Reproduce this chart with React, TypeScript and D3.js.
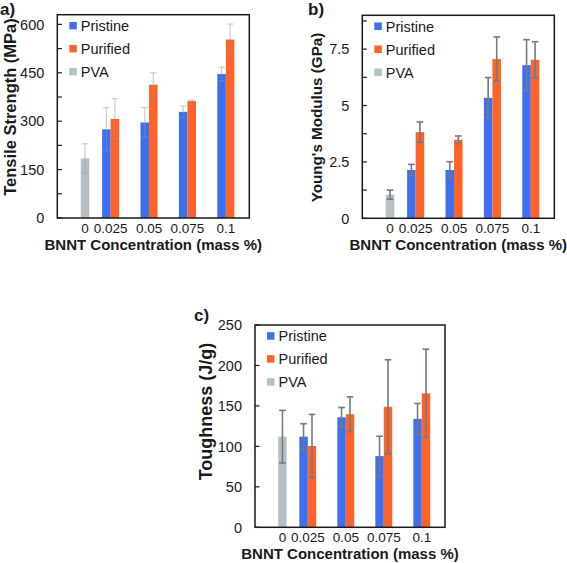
import React from "react";
import * as d3 from "d3";

const categories = ["0", "0.025", "0.05", "0.075", "0.1"];
const seriesNames = ["Pristine", "Purified", "PVA"];

const tensilePristine = [null, 275, 296, 329, 446];
const tensilePristineErr = [null, 67, 46, 18, 21];
const tensilePurified = [null, 307, 413, 363, 553];
const tensilePurifiedErr = [null, 63, 37, 3, 48];
const tensilePVA = [185, null, null, null, null];
const tensilePVAErr = [45, null, null, null, null];
const tensileTicks = [0, 150, 300, 450, 600];
const tensileMinor = [75, 225, 375, 525];

const modulusPristine = [null, 2.14, 2.14, 5.34, 6.79];
const modulusPristineErr = [null, 0.25, 0.37, 0.9, 1.13];
const modulusPurified = [null, 3.82, 3.48, 7.06, 7.03];
const modulusPurifiedErr = [null, 0.45, 0.17, 0.98, 0.8];
const modulusPVA = [1.05, null, null, null, null];
const modulusPVAErr = [0.2, null, null, null, null];
const modulusTicks = [0, 2.5, 5, 7.5];
const modulusTickLabels = ["0", "2.5", "5", "7.5"];
const modulusMinor = [1.25, 3.75, 6.25, 8.75];

const toughPristine = [null, 112, 136, 88, 134];
const toughPristineErr = [null, 16, 12, 24.5, 19];
const toughPurified = [null, 100.5, 139.7, 149, 165.6];
const toughPurifiedErr = [null, 39, 21.5, 58, 54.5];
const toughPVA = [112, null, null, null, null];
const toughPVAErr = [32.5, null, null, null, null];
const toughTicks = [0, 50, 100, 150, 200, 250];

const COLORS = ["#3d6ff0", "#ff6327", "#b3c1c5"];
const FONT = "'Liberation Sans', Arial, sans-serif";

type Panel = {
  label: string;
  yTitle: string;
  left: number;
  right: number;
  top: number;
  bottom: number;
  yMax: number;
  ticks: number[];
  tickLabels: string[];
  minor: number[];
  values: (number | null)[][];
  errs: (number | null)[][];
  errColor: string;
  errWidth: number;
  inBarDotted: boolean;
  labelPos: [number, number];
  yTitlePos: [number, number];
  yTitleSize: number;
};

function ChartPanel({ p }: { p: Panel }) {
  const x0 = d3.scaleBand<string>().domain(categories).range([p.left, p.right]).padding(0);
  const x1 = d3
    .scaleBand<string>()
    .domain(seriesNames)
    .range([0, x0.bandwidth()])
    .paddingInner(0)
    .paddingOuter(0.75);
  const y = d3.scaleLinear().domain([0, p.yMax]).range([p.bottom, p.top]);
  const bw = x1.bandwidth();

  const bars: React.ReactNode[] = [];
  const errs: React.ReactNode[] = [];
  categories.forEach((c, ci) => {
    seriesNames.forEach((s, si) => {
      const v = p.values[si][ci];
      if (v == null) return;
      const bx = (x0(c) as number) + (x1(s) as number);
      bars.push(
        <rect key={`b${ci}-${si}`} x={bx} y={y(v)} width={bw} height={p.bottom - y(v)} fill={COLORS[si]} />
      );
      const e = p.errs[si][ci];
      if (e != null) {
        const cx = bx + bw / 2;
        const capW = 3.3;
        const yt = y(v + e);
        const yb = y(Math.max(0, v - e));
        if (p.inBarDotted) {
          errs.push(
            <g key={`e${ci}-${si}`}>
              <line x1={cx} x2={cx} y1={yt} y2={y(v)} stroke={p.errColor} strokeWidth={p.errWidth} />
              <line x1={cx} x2={cx} y1={y(v)} y2={yb} stroke="#8d989c" strokeWidth={1} strokeDasharray="1,1" />
              <line x1={cx - capW} x2={cx + capW} y1={yt} y2={yt} stroke={p.errColor} strokeWidth={p.errWidth} />
              <line x1={cx - capW} x2={cx + capW} y1={yb} y2={yb} stroke="#8d989c" strokeWidth={1} strokeDasharray="1,1" />
            </g>
          );
        } else {
          errs.push(
            <g key={`e${ci}-${si}`}>
              <line x1={cx} x2={cx} y1={yt} y2={yb} stroke={p.errColor} strokeWidth={p.errWidth} />
              <line x1={cx - capW} x2={cx + capW} y1={yt} y2={yt} stroke={p.errColor} strokeWidth={p.errWidth} />
              <line x1={cx - capW} x2={cx + capW} y1={yb} y2={yb} stroke={p.errColor} strokeWidth={p.errWidth} />
            </g>
          );
        }
      }
    });
  });

  const catLabelX = (ci: number) => {
    const c = categories[ci];
    const centers: number[] = [];
    seriesNames.forEach((s, si) => {
      if (p.values[si][ci] != null) centers.push((x0(c) as number) + (x1(s) as number) + bw / 2);
    });
    return d3.mean(centers) as number;
  };

  const legendY0 = p.top + 11;
  const legendStep = 23;

  return (
    <g>
      {bars}
      {errs}
      <rect
        x={p.left}
        y={p.top}
        width={p.right - p.left}
        height={p.bottom - p.top}
        fill="none"
        stroke="#1a1a1a"
        strokeWidth={1.5}
      />
      {[...p.ticks, ...p.minor].map((t, i) => (
        <line key={`t${i}`} x1={p.left} x2={p.left + 4.5} y1={y(t)} y2={y(t)} stroke="#1a1a1a" strokeWidth={1.2} />
      ))}
      {p.ticks.map((t, i) => (
        <text
          key={`tl${i}`}
          x={p.left - 13}
          y={y(t)}
          dy="0.36em"
          textAnchor="end"
          fontFamily={FONT}
          fontSize={14.5}
          fill="#1a1a1a"
        >
          {p.tickLabels[i]}
        </text>
      ))}
      {categories.map((c, ci) => (
        <text
          key={`cl${ci}`}
          x={catLabelX(ci)}
          y={p.bottom + 15}
          textAnchor="middle"
          fontFamily={FONT}
          fontSize={13.5}
          fill="#1a1a1a"
        >
          {c}
        </text>
      ))}
      <text
        x={(p.left + p.right) / 2}
        y={p.bottom + 31.5}
        textAnchor="middle"
        fontFamily={FONT}
        fontSize={15}
        fontWeight="bold"
        fill="#1a1a1a"
      >
        BNNT Concentration (mass %)
      </text>
      <text
        transform={`translate(${p.yTitlePos[0]},${p.yTitlePos[1]}) rotate(-90)`}
        textAnchor="middle"
        fontFamily={FONT}
        fontSize={p.yTitleSize}
        fontWeight="bold"
        fill="#1a1a1a"
      >
        {p.yTitle}
      </text>
      <text x={p.labelPos[0]} y={p.labelPos[1]} fontFamily={FONT} fontSize={17} fontWeight="bold" fill="#1a1a1a">
        {p.label}
      </text>
      {seriesNames.map((s, si) => (
        <g key={`lg${si}`}>
          <rect x={p.left + 12} y={legendY0 + si * legendStep - 3.8} width={7.5} height={7.5} fill={COLORS[si]} />
          <text
            x={p.left + 23.5}
            y={legendY0 + si * legendStep}
            dy="0.36em"
            fontFamily={FONT}
            fontSize={14.5}
            fill="#1a1a1a"
          >
            {s}
          </text>
        </g>
      ))}
    </g>
  );
}

export default function App() {
  const panels: Panel[] = [
    {
      label: "a)",
      yTitle: "Tensile Strength (MPa)",
      left: 57.3,
      right: 249.3,
      top: 14.7,
      bottom: 218,
      yMax: 630,
      ticks: tensileTicks,
      tickLabels: tensileTicks.map(String),
      minor: tensileMinor,
      values: [tensilePristine, tensilePurified, tensilePVA],
      errs: [tensilePristineErr, tensilePurifiedErr, tensilePVAErr],
      errColor: "#c3cfd5",
      errWidth: 1.2,
      inBarDotted: true,
      labelPos: [0, 15],
      yTitlePos: [16, 107],
      yTitleSize: 16.5,
    },
    {
      label: "b)",
      yTitle: "Young's Modulus (GPa)",
      left: 362.3,
      right: 554.3,
      top: 15.3,
      bottom: 218.3,
      yMax: 9,
      ticks: modulusTicks,
      tickLabels: modulusTickLabels,
      minor: modulusMinor,
      values: [modulusPristine, modulusPurified, modulusPVA],
      errs: [modulusPristineErr, modulusPurifiedErr, modulusPVAErr],
      errColor: "#6f7c81",
      errWidth: 1.6,
      inBarDotted: false,
      labelPos: [308, 15],
      yTitlePos: [322, 117.5],
      yTitleSize: 15.2,
    },
    {
      label: "c)",
      yTitle: "Toughness (J/g)",
      left: 255,
      right: 445,
      top: 325,
      bottom: 527.3,
      yMax: 250,
      ticks: toughTicks,
      tickLabels: toughTicks.map(String),
      minor: [],
      values: [toughPristine, toughPurified, toughPVA],
      errs: [toughPristineErr, toughPurifiedErr, toughPVAErr],
      errColor: "#6f7c81",
      errWidth: 1.6,
      inBarDotted: false,
      labelPos: [194, 321],
      yTitlePos: [211.5, 411.5],
      yTitleSize: 18,
    },
  ];
  return (
    <div style={{ position: "fixed", left: 0, top: 0, width: 567, height: 563, background: "#fff" }}>
      <svg width={567} height={563} style={{ display: "block" }}>
        <rect width={567} height={563} fill="#fff" />
        {panels.map((p, i) => (
          <ChartPanel key={i} p={p} />
        ))}
      </svg>
    </div>
  );
}
